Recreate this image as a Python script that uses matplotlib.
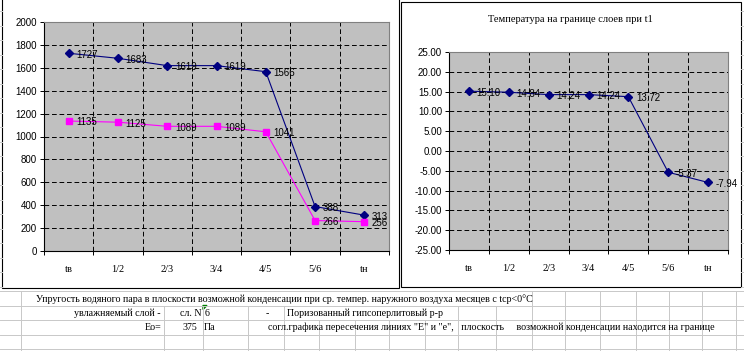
import numpy as np
import matplotlib.pyplot as plt
from matplotlib.patches import Rectangle, Polygon

plt.rcParams['lines.scale_dashes'] = False

W, H = 744, 351

categories = ['tв', '1/2', '2/3', '3/4', '4/5', '5/6', 'tн']
E_values = [1727, 1683, 1619, 1619, 1566, 388, 313]
e_values = [1135, 1125, 1089, 1089, 1041, 266, 256]
temperatures = [15.10, 14.84, 14.24, 14.24, 13.72, -5.37, -7.94]
left_yticks = list(range(0, 2001, 200))
right_yticks = list(range(-25, 26, 5))
right_title = 'Температура на границе слоев при t1'

# spreadsheet cells under the charts: (x, row, text, align)
sheet_text = [
    (36, 0, 'Упругость водяного пара в плоскости возможной конденсации при ср. темпер. наружного воздуха месяцев с tср<0°С', 'left'),
    (161, 1, 'увлажняемый слой -', 'right'),
    (180, 1, 'сл. N', 'left'),
    (205, 1, '6', 'left'),
    (266, 1, '-', 'left'),
    (287, 1, 'Поризованный гипсоперлитовый р-р', 'left'),
    (161, 2, 'Eо=', 'right'),
    (197, 2, '375', 'right'),
    (204, 2, 'Па', 'left'),
    (268, 2, 'согл.графика пересечения линиях "E" и "e",   плоскость     возможной конденсации находится на границе', 'left'),
]
row_lines = [291, 305.5, 320, 334.5, 349]
col_lines = [21, 164, 203, 248, 284, 319, 355, 389, 425, 458, 496, 532, 565, 600, 636, 669, 702, 736]

SANS = 'Liberation Sans'
SERIF = 'Liberation Serif'

fig = plt.figure(figsize=(W / 100, H / 100), dpi=100)

bg = fig.add_axes([0, 0, 1, 1])
bg.set_xlim(0, W)
bg.set_ylim(H, 0)
bg.axis('off')

grid_c = '#c8c8c8'
# spreadsheet grid
for y in row_lines:
    bg.plot([0, W], [y, y], color=grid_c, lw=0.7)
for y in np.arange(11, 291, 14.5):
    bg.plot([0, 2], [y, y], color=grid_c, lw=0.7)
    bg.plot([741, W], [y, y], color=grid_c, lw=0.7)
for x in col_lines:
    bg.plot([x, x], [row_lines[2], H], color=grid_c, lw=0.7)
    if x <= 21 or x >= 532:
        bg.plot([x, x], [row_lines[0], row_lines[1]], color=grid_c, lw=0.7)
    if x <= 284 or x >= 458:
        bg.plot([x, x], [row_lines[1], row_lines[2]], color=grid_c, lw=0.7)
    if x <= 248:
        bg.plot([x, x], [row_lines[2], row_lines[3]], color=grid_c, lw=0.7)
# the row-2/3 cells that have text overflow hide the lines under them
for y0, y1 in [(row_lines[0], row_lines[1]), (row_lines[1], row_lines[2])]:
    pass

for x, row, txt, ha in sheet_text:
    yc = (row_lines[row] + row_lines[row + 1]) / 2
    t = bg.text(x, yc + 0.5, txt, ha=ha, va='center', family=SERIF, fontsize=7.2)
    t.set_clip_box(bg.bbox)
bg.add_patch(Polygon([[203, 305.5], [207, 305.5], [203, 309.5]], closed=True, color='#008000'))

# chart frames
bg.add_patch(Rectangle((2, -5), 397, 293, facecolor='white', edgecolor='black', lw=0.8))
bg.add_patch(Rectangle((400.5, 2), 340, 285, facecolor='white', edgecolor='black', lw=0.8))
bg.text(570, 20, right_title, ha='center', va='center', family=SERIF, fontsize=7.5)


def px_axes(x0, y0, x1, y1):
    return fig.add_axes([x0 / W, 1 - y1 / H, (x1 - x0) / W, (y1 - y0) / H])


def style_axes(ax, yticks, fmt):
    x = np.arange(len(categories))
    ax.set_facecolor('#c0c0c0')
    ax.set_xlim(-0.5, len(categories) - 0.5)
    ax.set_ylim(yticks[0], yticks[-1])
    ax.set_yticks(yticks)
    ax.set_yticklabels([fmt.format(v) for v in yticks], family=SANS, fontsize=7)
    ax.set_xticks(x)
    ax.set_xticklabels(categories, family=SERIF, fontsize=7.5)
    ax.set_xticks(np.arange(len(categories) + 1) - 0.5, minor=True)
    ax.tick_params(axis='x', which='major', length=0, pad=10)
    ax.tick_params(axis='x', which='minor', length=3, width=0.7, direction='out')
    ax.tick_params(axis='y', length=3, width=0.7, direction='out', pad=2)
    for v in yticks[1:-1]:
        ax.axhline(v, color='black', lw=0.7, ls=(0, (3.4, 2)), zorder=1)
    for b in np.arange(1, len(categories)) - 0.5:
        ax.axvline(b, color='black', lw=0.7, ls=(0, (3.4, 2)), zorder=1)
    for s in ['top', 'right']:
        ax.spines[s].set_color('#808080')
        ax.spines[s].set_linewidth(0.8)
    for s in ['left', 'bottom']:
        ax.spines[s].set_color('black')
        ax.spines[s].set_linewidth(0.8)
    return x


def label_points(ax, x, values, fmt):
    for xi, v in zip(x, values):
        ax.annotate(fmt.format(v), (xi, v), xytext=(5.5, -1), textcoords='offset points',
                    ha='left', va='center', family=SANS, fontsize=7, zorder=5)


# left chart: water vapour pressure
ax1 = px_axes(44, 22, 389, 251)
x = style_axes(ax1, left_yticks, '{:d}')
ax1.plot(x, E_values, color='#000080', lw=0.8, marker='D', ms=4.2, zorder=3)
ax1.plot(x, e_values, color='#ff00ff', lw=0.8, marker='s', ms=4.5, zorder=3)
label_points(ax1, x, E_values, '{:d}')
label_points(ax1, x, e_values, '{:d}')

# right chart: temperatures
ax2 = px_axes(449, 52, 728, 250)
x = style_axes(ax2, right_yticks, '{:.2f}')
ax2.plot(x, temperatures, color='#000080', lw=0.8, marker='D', ms=4.2, zorder=3)
label_points(ax2, x, temperatures, '{:.2f}')

fig.savefig('out.png', dpi=100)
